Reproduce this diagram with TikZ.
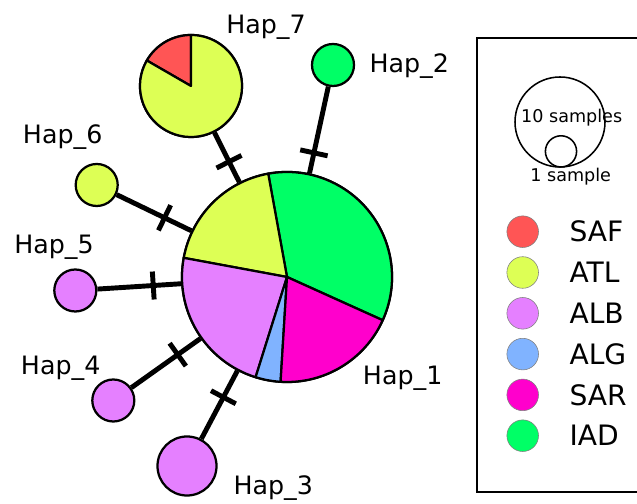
\documentclass[tikz,border=0pt]{standalone}
\usepackage{fontspec}
\setmainfont{DejaVu Sans}
\usetikzlibrary{calc}
\definecolor{saf}{HTML}{FF5555}
\definecolor{atl}{HTML}{DDFF55}
\definecolor{alb}{HTML}{E580FF}
\definecolor{alg}{HTML}{80B3FF}
\definecolor{sar}{HTML}{FF00CC}
\definecolor{iad}{HTML}{00FF66}

\begin{document}
\begin{tikzpicture}[x = 0.025cm, y = 0.025cm,
		hap/.style = {circle, draw, line width = 1.6pt, inner sep = 0pt, minimum size = #1*0.05cm},
		pie/.style = {draw, line width = 1.6pt, line join = round},
		link/.style = {line width = 3.5pt},
		lab/.style = {anchor = base west, inner sep = 0pt, font = \fontsize{18}{20}\selectfont},
		key/.style = {circle, draw = gray, thin, inner sep = 0pt, minimum size = 0.79cm}]
	\useasboundingbox (0, 0) rectangle (637, 504);
		\node[hap = 105] (h1) at (287, 227) {};
		\node[hap = 51] (h7) at (191, 418) {};
		\node[hap = 21, fill = iad] (h2) at (333, 439) {};
		\node[hap = 29.5, fill = alb] (h3) at (187, 38) {};
		\node[hap = 21, fill = alb] (h4) at (113.3, 103.5) {};
		\node[hap = 21, fill = alb] (h5) at (75.3, 213.5) {};
		\node[hap = 21, fill = atl] (h6) at (96.7, 319) {};
	\foreach \h/\d in {2/3.175, 3/3.4, 4/3.35, 5/3.35, 6/3.4, 7/3.225}{
		\draw[link] (h1) -- (h\h);
		\coordinate (t\h) at ($(h1.center)!\d cm!(h\h.center)$);
		\draw[link] ($(t\h)!0.35cm!90:(h\h.center)$) -- ($(t\h)!0.35cm!-90:(h\h.center)$);
	}
	\foreach \a/\b/\c in {-24.3/100.3/iad, 100.3/169.5/atl, 169.5/252.6/alb, 252.6/266.5/alg, 266.5/335.7/sar}
		\draw[pie, fill = \c] (h1.center) -- ++(\a:105) arc[start angle = \a, end angle = \b, radius = 105] -- cycle;
	\draw[pie, fill = saf] (h7.center) -- ++(90:51) arc[start angle = 90, end angle = 150, radius = 51] -- cycle;
	\draw[pie, fill = atl] (h7.center) -- ++(150:51) arc[start angle = 150, end angle = 450, radius = 51] -- cycle;
		\node[lab] (l1) at (362.7, 119) {Hap\_1};
		\node[lab] (l2) at (369.3, 431.3) {Hap\_2};
		\node[lab] (l3) at (233.3, 9) {Hap\_3};
		\node[lab] (l4) at (20.7, 129) {Hap\_4};
		\node[lab] (l5) at (14, 250) {Hap\_5};
		\node[lab] (l6) at (22.7, 360.7) {Hap\_6};
		\node[lab] (l7) at (226, 470.7) {Hap\_7};
	\draw[line width = 1.2pt] (477, 466) rectangle (660, 12);
	\draw[line width = 1.1pt] (560, 382) circle[radius = 45];
	\draw[line width = 1.1pt] (561, 352.6) circle[radius = 15.6];
		\node[font = \fontsize{12.5}{14}\selectfont] (ten) at (571.7, 386.7) {10 samples};
		\node[font = \fontsize{12.5}{14}\selectfont] (one) at (570.7, 327.3) {1 sample};
	\foreach \c/\t [count = \i from 0] in {saf/SAF, atl/ATL, alb/ALB, alg/ALG, sar/SAR, iad/IAD}{
		\node[key, fill = \c] (k\i) at (522.7, 272.3 - 40.8*\i) {};
		\node[anchor = west, inner sep = 0pt, font = \fontsize{20}{22}\selectfont] (n\i) at (569.3, 272.3 - 40.8*\i) {\t};
	}
\end{tikzpicture}
\end{document}
